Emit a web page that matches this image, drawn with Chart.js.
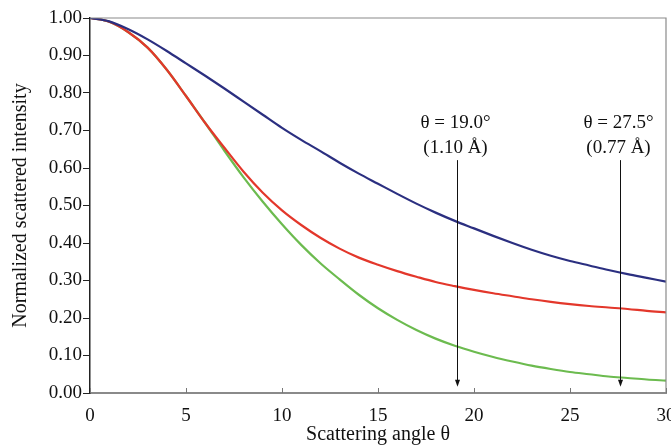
<!DOCTYPE html>
<html>
<head>
<meta charset="utf-8">
<script src="https://cdn.jsdelivr.net/npm/chart.js@4.4.1/dist/chart.umd.min.js"></script>
<style>
    html, body { margin: 0; padding: 0; background: #fff; }
    #wrap { width: 671px; height: 446px; }
</style>
</head>
<body>
<div id="wrap"><canvas id="chartDispersion"></canvas></div>
<script>
const theta = [0, 1, 2, 3, 4, 5, 6, 7, 8, 9, 10, 11, 12, 13, 14, 15, 16, 17, 18, 19, 20, 21, 22, 23, 24, 25, 26, 27, 28, 29, 30];
const curvaAzul = [1.000, 0.991, 0.970, 0.943, 0.912, 0.879, 0.846, 0.812, 0.777, 0.742, 0.707, 0.675, 0.645, 0.614, 0.585, 0.558, 0.531, 0.505, 0.481, 0.459, 0.439, 0.419, 0.400, 0.382, 0.366, 0.352, 0.340, 0.328, 0.317, 0.307, 0.297];
const curvaRoja = [1.000, 0.990, 0.962, 0.921, 0.862, 0.792, 0.720, 0.654, 0.590, 0.534, 0.487, 0.448, 0.414, 0.385, 0.361, 0.342, 0.325, 0.310, 0.296, 0.285, 0.275, 0.266, 0.258, 0.250, 0.243, 0.237, 0.232, 0.228, 0.224, 0.219, 0.215];
const curvaVerde = [1.000, 0.990, 0.962, 0.921, 0.862, 0.792, 0.720, 0.646, 0.575, 0.510, 0.450, 0.395, 0.346, 0.303, 0.262, 0.226, 0.195, 0.168, 0.145, 0.126, 0.110, 0.096, 0.084, 0.073, 0.064, 0.056, 0.050, 0.044, 0.040, 0.036, 0.033];

const xTicks = [0, 5, 10, 15, 20, 25, 30];
const flechasTheta = [19.1, 27.6];
const flechasTexto = [["\u03b8 = 19.0\u00b0", "(1.10 \u00c5)"], ["\u03b8 = 27.5\u00b0", "(0.77 \u00c5)"]];

const fuente = "'Liberation Serif', 'Times New Roman', serif";

function puntos(valores) {
    return theta.map((t, i) => ({ x: t, y: valores[i] }));
}

const marcoYFlechas = {
    id: 'marcoYFlechas',
    afterDraw(chart) {
        const ctx = chart.ctx;
        const area = chart.chartArea;
        const sx = chart.scales.x;
        const sy = chart.scales.y;
        ctx.save();

        // top and right frame
        ctx.strokeStyle = '#8a8a8a';
        ctx.lineWidth = 1.2;
        ctx.beginPath();
        ctx.moveTo(area.left, area.top);
        ctx.lineTo(area.right, area.top);
        ctx.lineTo(area.right, area.bottom);
        ctx.stroke();

        // x ticks pointing inward
        ctx.strokeStyle = '#777';
        ctx.lineWidth = 1;
        xTicks.forEach((t) => {
            const px = Math.round(sx.getPixelForValue(t)) + 0.5;
            ctx.beginPath();
            ctx.moveTo(px, area.bottom);
            ctx.lineTo(px, area.bottom - 5);
            ctx.stroke();
        });

        // arrows and labels
        ctx.strokeStyle = '#111';
        ctx.fillStyle = '#111';
        ctx.font = "19px " + fuente;
        ctx.textAlign = 'center';
        ctx.textBaseline = 'alphabetic';
        flechasTheta.forEach((t, i) => {
            const px = Math.round(sx.getPixelForValue(t)) + 0.5;
            const y0 = sy.getPixelForValue(0.621);
            const y1 = sy.getPixelForValue(0.017);
            ctx.lineWidth = 1;
            ctx.beginPath();
            ctx.moveTo(px, y0);
            ctx.lineTo(px, y1 - 5);
            ctx.stroke();
            ctx.beginPath();
            ctx.moveTo(px, y1);
            ctx.lineTo(px - 2.5, y1 - 7);
            ctx.lineTo(px + 2.5, y1 - 7);
            ctx.closePath();
            ctx.fill();
            ctx.fillText(flechasTexto[i][0], px - 2, sy.getPixelForValue(0.706));
            ctx.fillText(flechasTexto[i][1], px - 2, sy.getPixelForValue(0.641));
        });
        ctx.restore();
    }
};

const data = {
    datasets: [
        { label: 'a', data: puntos(curvaAzul), borderColor: '#2b2f80', borderWidth: 2.2 },
        { label: 'b', data: puntos(curvaRoja), borderColor: '#e3372b', borderWidth: 2.2 },
        { label: 'c', data: puntos(curvaVerde), borderColor: '#6cbb4f', borderWidth: 2.2 }
    ]
};

const config = {
    type: 'line',
    data: data,
    options: {
        responsive: true,
        maintainAspectRatio: false,
        animation: false,
        layout: { padding: { top: 18, right: 5, bottom: 0, left: 0 } },
        elements: {
            point: { radius: 0 },
            line: { cubicInterpolationMode: 'monotone', fill: false }
        },
        plugins: {
            legend: { display: false },
            tooltip: { enabled: false }
        },
        scales: {
            x: {
                type: 'linear',
                min: 0,
                max: 30,
                afterBuildTicks: (scale) => {
                    scale.ticks = xTicks.map((v) => ({ value: v }));
                },
                afterFit: (scale) => {
                    scale.height = 53;
                    scale.paddingLeft = 0;
                    scale.paddingRight = 0;
                },
                grid: { display: false },
                border: { display: true, color: '#8a8a8a', width: 2 },
                ticks: {
                    color: '#111',
                    padding: 4,
                    maxRotation: 0,
                    autoSkip: false,
                    font: { family: fuente, size: 19 }
                },
                title: {
                    display: true,
                    text: 'Scattering angle \u03b8',
                    color: '#111',
                    padding: 0,
                    font: { family: fuente, size: 20, lineHeight: 1.1 }
                }
            },
            y: {
                min: 0,
                max: 1,
                afterFit: (scale) => {
                    scale.width = 90;
                    scale.paddingTop = 0;
                    scale.paddingBottom = 0;
                },
                grid: { drawOnChartArea: false, drawTicks: true, tickLength: 7, color: '#222' },
                border: { display: true, color: '#222', width: 1.5 },
                ticks: {
                    stepSize: 0.1,
                    color: '#111',
                    padding: 1,
                    font: { family: fuente, size: 19 },
                    callback: (v) => v.toFixed(2)
                },
                title: {
                    display: true,
                    text: 'Normalized scattered intensity',
                    color: '#111',
                    padding: { top: 9, bottom: 0 },
                    font: { family: fuente, size: 20, lineHeight: 1.2 }
                }
            }
        }
    },
    plugins: [marcoYFlechas]
};

const canvasDispersion = document.getElementById("chartDispersion");
const graficoDispersion = new Chart(canvasDispersion, config);
</script>
</body>
</html>
